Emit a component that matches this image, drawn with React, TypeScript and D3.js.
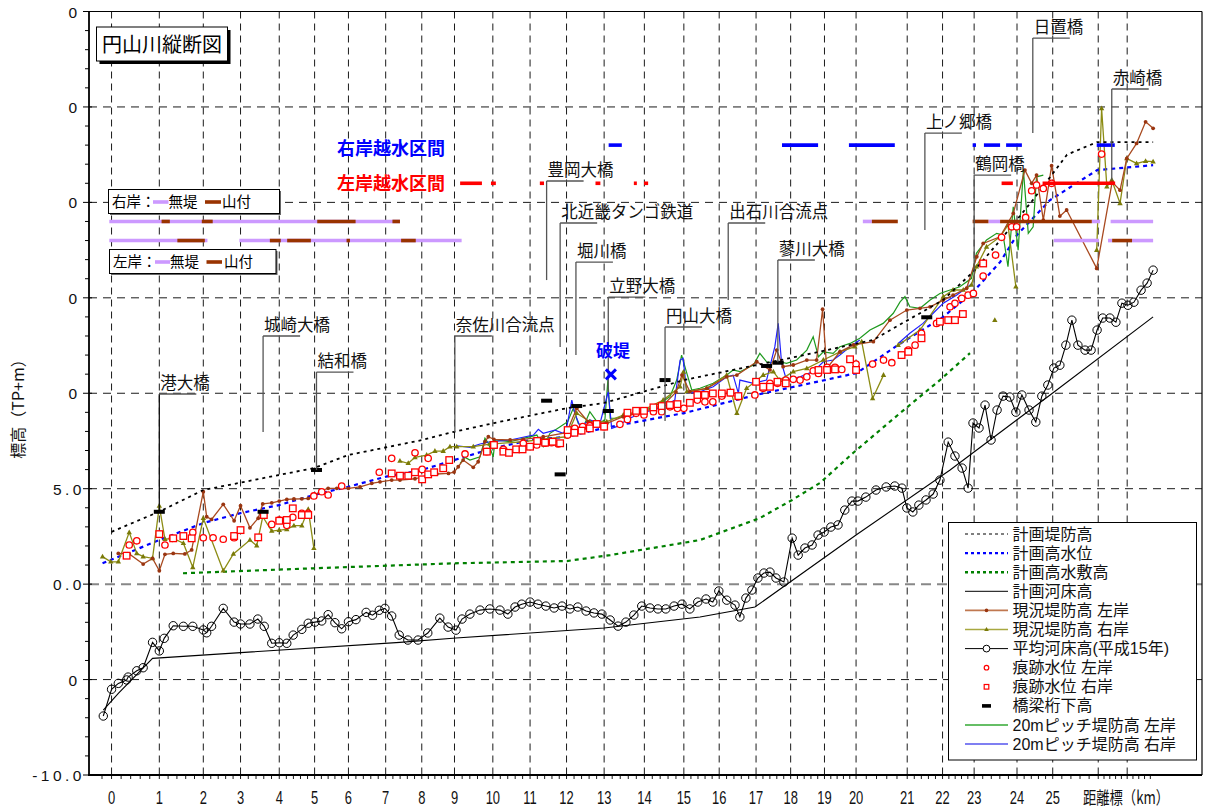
import React from "react";
import * as d3 from "d3";

type P = [number, number];
type Seg = [number, number];

// ---------- axis data ----------
const kmPostLabels = ["0","1","2","3","4","5","6","7","8","9","10","11","12","13","14","15","16","17","18","19","20","21","22","23","24","25","",""];
// true distance (km) of each distance-marker post along the channel
const kmPostDist = [0.0,1.27,2.44,3.43,4.46,5.40,6.30,7.29,8.25,9.12,10.14,11.13,12.10,13.10,14.17,15.22,16.16,17.14,18.06,18.96,19.80,21.16,22.10,22.94,24.08,25.03,26.24,27.01];
const yTickValues = [-10,-5,0,5,10,15,20,25,30];
const yTickLabels = ["-10.0","0","0.0","5.0","0","0","0","0","0"];

// ---------- series (x = distance km, y = elevation TP m) ----------
const planLevee: P[] = [[0,2.74],[1.26,3.79],[2.44,4.93],[5.38,6.08],[6.29,6.76],[8.26,7.55],[9.11,7.98],[10.17,8.44],[12.11,9.22],[13.10,9.49],[15.22,10.69],[18.04,11.84],[20.25,12.79],[22.11,14.88],[22.91,16.35],[23.63,18.0],[24.50,20.12],[25.41,22.5],[26.21,23.16],[27.70,23.16]];
const planHWL: P[] = [[-0.24,1.09],[1.27,2.31],[2.44,3.20],[3.43,3.72],[4.45,4.14],[5.38,4.67],[6.29,5.10],[7.30,5.63],[8.25,5.98],[9.11,6.50],[10.17,7.13],[11.15,7.55],[12.11,7.72],[13.10,8.18],[15.22,8.96],[17.14,9.91],[18.97,10.69],[19.82,11.06],[20.92,12.53],[22.11,13.99],[22.91,15.30],[23.63,16.87],[24.08,18.29],[24.96,20.12],[26.21,21.69],[27.70,21.95]];
const planHighBed: P[] = [[1.90,0.57],[5.38,0.83],[9.11,1.09],[12.11,1.21],[13.26,1.52],[15.65,2.31],[17.24,3.46],[18.10,4.41],[18.84,5.30],[19.72,6.87],[20.97,8.96],[22.03,10.69],[22.83,12.10]];
const planBed: P[] = [[-0.22,-6.60],[0.18,-5.72],[1.09,-3.89],[7.67,-3.05],[9.16,-2.82],[13.10,-2.30],[15.65,-1.72],[17.11,-1.20],[19.80,2.57],[22.30,5.98],[24.96,9.91],[27.70,14.00]];

const leftLevee: P[][] = [[[0.18,1.61],[0.47,1.58],[0.84,1.05],[1.09,1.35],[1.27,0.70],[1.42,1.56],[1.64,1.61],[1.95,1.58],[2.13,1.79],[2.44,4.84],[2.53,3.53],[2.66,3.39],[2.97,4.18],[3.26,3.32],[3.43,4.11],[3.68,2.95],[3.90,3.45],[4.02,4.20],[4.26,4.26],[4.46,4.35],[4.66,4.44],[4.85,4.46],[5.06,4.47],[5.23,4.49],[5.38,4.58],[5.54,4.88],[5.76,5.02],[5.99,5.02],[6.30,5.02],[6.61,5.10],[6.92,5.28],[7.14,5.36],[7.45,5.45],[7.67,5.45],[8.07,5.52],[8.38,5.68],[8.65,5.77],[8.96,5.80],[9.11,5.87],[9.22,6.15],[9.35,6.50],[9.62,6.12],[9.75,6.41],[9.93,7.46],[10.02,7.72],[10.17,7.58],[10.60,7.55],[10.95,7.58],[11.48,7.72],[12.10,7.93],[12.37,9.21],[12.67,8.51],[13.17,8.42],[13.61,8.77],[14.14,9.03],[14.67,9.38],[15.01,10.06],[15.17,10.95],[15.38,10.08],[15.83,10.26],[16.36,10.86],[16.63,10.95],[17.16,11.65],[17.51,11.22],[17.69,12.26],[17.86,11.39],[18.13,11.48],[18.49,11.74],[18.75,11.74],[18.91,14.40],[19.02,11.30],[19.37,12.17],[19.73,12.53],[20.26,12.70],[20.70,13.83],[21.15,14.36],[21.50,14.45],[21.77,14.53],[22.12,14.88],[22.38,15.14],[22.74,15.50],[23.01,17.15],[23.18,17.85],[23.63,18.20],[23.98,19.42],[24.29,21.69],[24.47,21.00],[24.60,21.43],[24.78,19.07],[25.00,21.92],[25.22,19.28],[25.40,19.60],[26.20,16.54],[26.61,21.06],[26.82,20.64],[27.00,22.30],[27.26,23.09],[27.50,24.22],[27.70,23.88]]];

const rightLevee: P[][] = [
  [[-0.24,1.44],[-0.02,1.17],[0.18,1.17],[0.47,2.71],[0.67,1.61],[0.84,1.44],[1.09,1.35],[1.27,4.09],[1.42,2.35],[1.64,2.40],[1.91,2.14],[2.16,0.88],[2.44,3.45],[2.97,0.70],[3.24,1.58],[3.68,2.31],[3.86,2.01],[4.02,3.53],[4.26,2.78],[4.46,2.83],[4.66,2.87],[4.85,3.06],[5.06,3.06],[5.23,3.92],[5.38,1.88]],
  [[7.67,6.45],[7.89,6.33],[8.07,6.64],[8.38,6.76],[8.60,6.97],[8.82,6.97],[9.00,7.20],[9.18,7.20],[9.62,7.20],[10.06,7.34],[10.95,7.46],[11.48,7.60],[12.10,7.72],[12.37,8.95],[12.72,8.51],[13.17,8.51],[13.61,8.86],[14.14,9.12],[14.67,9.64],[15.12,10.34],[15.21,11.11],[15.30,10.08],[15.83,10.26],[16.36,10.95],[16.63,8.95],[16.89,10.26],[17.33,10.95],[17.60,11.13],[17.77,10.69],[18.13,11.13],[18.49,11.30],[18.93,11.74],[19.37,12.17],[19.77,12.44],[19.95,12.70],[20.24,9.73],[20.53,10.95]],
  [[20.92,12.52],[21.50,13.31],[22.12,15.06],[22.38,15.41],[22.65,15.41],[22.87,15.67],[23.00,16.63],[23.27,17.67],[23.63,18.20],[23.84,18.81],[24.05,15.58]],
  [[23.49,13.83]],
  [[26.20,17.50],[26.33,24.92],[26.47,20.82],[26.60,21.17],[26.82,19.95],[27.00,22.30],[27.26,22.04],[27.50,22.16],[27.70,22.13]]
];

const meanBed2003: P[] = [[-0.22,-6.91],[0.0,-5.51],[0.18,-5.20],[0.40,-5.02],[0.44,-4.87],[0.67,-4.54],[0.84,-4.38],[1.09,-3.05],[1.27,-3.50],[1.40,-2.84],[1.64,-2.18],[1.91,-2.21],[2.16,-2.21],[2.44,-2.40],[2.53,-2.55],[2.66,-2.21],[2.97,-1.27],[3.26,-1.99],[3.43,-2.09],[3.68,-2.09],[3.89,-1.83],[4.06,-2.21],[4.26,-3.10],[4.46,-3.07],[4.66,-3.10],[4.83,-2.67],[5.06,-2.37],[5.23,-2.05],[5.41,-1.99],[5.59,-1.93],[5.76,-1.60],[5.94,-2.02],[6.12,-2.34],[6.30,-1.97],[6.50,-1.86],[6.77,-1.48],[6.94,-1.63],[7.12,-1.37],[7.27,-1.27],[7.45,-1.67],[7.65,-2.67],[7.88,-2.93],[8.15,-2.93],[8.41,-2.56],[8.73,-1.78],[8.95,-2.25],[9.16,-2.41],[9.32,-1.83],[9.53,-1.57],[9.80,-1.36],[10.06,-1.30],[10.33,-1.36],[10.54,-1.57],[10.73,-1.20],[10.91,-1.05],[11.13,-0.94],[11.34,-1.05],[11.55,-1.15],[11.77,-1.25],[11.98,-1.15],[12.19,-1.30],[12.40,-1.20],[12.62,-1.41],[12.83,-1.51],[13.04,-1.57],[13.26,-1.88],[13.47,-2.20],[13.68,-1.99],[13.89,-1.62],[14.10,-1.15],[14.32,-1.25],[14.53,-1.30],[14.74,-1.30],[14.96,-1.15],[15.17,-1.05],[15.38,-1.30],[15.59,-0.94],[15.81,-0.78],[15.99,-0.94],[16.15,-0.36],[16.36,-0.84],[16.58,-1.10],[16.71,-1.72],[16.87,-0.73],[17.03,-0.31],[17.19,0.32],[17.35,0.58],[17.51,0.63],[17.67,0.32],[17.88,0.11],[18.10,2.41],[18.26,1.52],[18.44,1.89],[18.63,2.05],[18.79,2.57],[18.95,2.73],[19.13,2.99],[19.32,3.10],[19.50,3.88],[19.69,4.35],[19.85,4.35],[20.06,4.56],[20.33,4.93],[20.60,5.09],[20.83,5.14],[21.02,5.03],[21.15,3.99],[21.31,3.78],[21.47,4.14],[21.66,4.41],[21.85,4.72],[22.03,5.45],[22.25,7.44],[22.43,6.71],[22.62,6.08],[22.78,5.03],[22.91,8.44],[23.07,8.18],[23.23,9.38],[23.39,7.55],[23.55,9.12],[23.71,9.85],[23.89,9.80],[24.05,9.01],[24.21,9.91],[24.40,9.12],[24.58,8.49],[24.74,9.85],[24.90,10.43],[25.06,11.32],[25.22,11.47],[25.38,12.52],[25.54,13.83],[25.70,12.52],[25.89,12.26],[26.05,12.26],[26.21,13.31],[26.36,13.94],[26.55,13.94],[26.71,13.72],[26.87,14.72],[27.03,14.61],[27.19,14.77],[27.38,15.40],[27.54,15.77],[27.70,16.45]];

const floodMarkLeft: P[] = [[0.47,2.05],[0.67,2.27],[1.42,2.05],[1.62,2.40],[2.16,2.71],[2.44,2.43],[2.70,2.43],[2.97,2.35],[3.26,2.43],[4.26,3.13],[4.46,3.36],[4.66,3.08],[4.82,3.50],[5.06,3.71],[5.23,3.71],[5.38,4.62],[5.59,4.84],[5.76,4.67],[6.12,5.14],[7.12,5.86],[7.45,6.59],[8.07,6.88],[8.26,6.01],[8.42,6.59],[9.40,6.82],[9.98,6.94],[10.42,7.06],[10.95,7.38],[11.31,7.29],[11.53,7.38],[11.70,7.41],[11.88,7.34],[12.13,7.81],[12.32,8.16],[12.53,8.25],[12.72,8.30],[13.10,8.25],[13.52,8.37],[13.72,8.63],[13.95,8.95],[14.16,8.86],[14.41,9.03],[14.63,9.03],[14.85,9.29],[15.05,9.21],[15.22,9.21],[15.58,9.64],[15.78,9.55],[15.99,9.55],[16.23,9.85],[16.45,10.03],[16.67,9.82],[17.11,9.91],[17.33,10.26],[17.51,10.52],[17.71,10.52],[17.93,10.69],[18.13,10.73],[18.31,10.69],[18.49,10.86],[18.66,11.18],[18.80,11.04],[19.03,11.36],[19.24,11.36],[19.42,11.25],[19.80,11.53],[20.24,11.53],[20.53,11.74],[20.75,11.60],[21.19,12.26],[21.37,12.52],[21.54,13.14],[21.94,13.66],[22.30,14.53],[22.43,14.71],[22.61,14.97],[22.78,15.14],[22.92,15.23],[23.18,16.14],[23.51,17.24],[23.67,18.17],[23.94,18.72],[24.07,18.72],[24.31,19.21],[24.47,20.61],[24.60,20.91],[24.78,20.73],[25.00,21.00],[26.33,22.53]];
const floodMarkRight: P[] = [[0.40,1.49],[1.27,2.62],[1.64,2.40],[1.91,2.52],[2.13,2.40],[3.26,2.52],[3.43,2.83],[3.90,2.45],[4.05,3.62],[4.46,3.32],[4.66,3.36],[4.82,3.97],[5.06,3.62],[5.23,3.62],[7.45,5.80],[7.67,5.68],[7.89,5.68],[8.07,5.86],[8.26,5.49],[8.42,5.75],[8.58,5.86],[8.82,6.07],[8.98,6.50],[9.98,6.94],[10.17,7.29],[10.42,6.94],[10.57,6.88],[10.76,7.06],[10.93,7.06],[11.13,7.20],[11.32,7.50],[11.53,7.41],[11.73,7.46],[11.93,7.38],[12.13,8.07],[12.31,7.93],[12.50,8.04],[12.72,8.16],[12.90,8.39],[13.10,8.25],[13.72,8.98],[13.95,9.08],[14.16,9.08],[14.41,9.26],[14.63,9.33],[14.85,9.38],[15.05,9.43],[15.38,9.50],[15.58,9.91],[15.78,9.91],[15.99,9.99],[16.23,9.99],[16.46,10.03],[16.67,9.85],[17.14,10.60],[17.33,10.34],[17.51,10.34],[17.71,10.60],[17.93,10.52],[18.80,11.22],[19.03,11.22],[19.24,11.25],[19.64,11.78],[19.80,11.22],[21.01,12.00],[21.19,12.17],[21.54,12.88],[22.03,13.75],[22.25,13.83],[22.43,13.83],[22.64,14.15],[23.18,16.80]];

const bridgeGirder: P[] = [[1.27,3.79],[4.03,3.79],[5.45,5.98],[11.57,9.61],[11.93,5.75],[12.37,9.33],[13.21,9.07],[14.72,10.69],[17.42,11.43],[17.73,11.60],[21.68,13.98]];

const pitchLeft: P[][] = [[[9.27,6.33],[9.40,6.64],[9.53,6.50],[9.80,6.67],[9.93,7.64],[10.02,7.38],[10.15,6.67],[10.20,7.55],[10.60,7.46],[10.95,7.64],[11.31,7.81],[11.48,7.20],[11.66,7.90],[11.93,8.25],[12.13,8.51],[12.28,9.21],[12.41,8.42],[12.55,8.25],[12.72,9.03],[12.94,8.42],[13.12,8.60],[13.20,10.69],[13.26,8.70],[13.43,8.69],[13.70,8.86],[14.05,9.03],[14.32,9.21],[14.58,9.47],[14.85,9.82],[15.03,10.69],[15.16,12.00],[15.30,11.04],[15.43,10.17],[15.65,10.26],[16.00,10.52],[16.36,10.95],[16.53,11.22],[16.71,11.13],[17.07,11.48],[17.24,12.09],[17.42,11.65],[17.64,11.57],[17.77,11.65],[17.95,11.57],[18.22,11.74],[18.49,12.26],[18.66,12.96],[18.80,11.91],[18.93,12.17],[19.19,12.09],[19.37,12.44],[19.64,12.61],[19.90,12.88],[20.17,13.31],[20.52,13.66],[20.79,14.19],[20.97,14.79],[21.10,15.06],[21.23,14.53],[21.50,14.45],[21.77,14.88],[22.03,15.23],[22.30,15.41],[22.56,15.58],[22.87,16.02],[23.00,17.33],[23.27,18.03],[23.54,18.38],[23.71,18.29],[23.84,16.63],[23.98,19.77],[24.11,17.50],[24.25,21.69],[24.38,18.38],[24.51,18.72],[24.60,21.34],[24.78,21.43]]];
const pitchRight: P[][] = [
  [[9.18,7.25],[9.53,7.17],[9.80,7.34],[10.06,7.46],[10.60,7.55],[11.22,7.81],[11.35,8.11],[11.48,7.90],[11.79,8.07],[12.01,7.90],[12.10,8.16],[12.24,9.64],[12.32,8.95],[12.46,8.25],[12.72,8.60],[12.99,8.42],[13.21,10.08],[13.30,8.16],[13.43,8.25],[13.70,8.60],[14.05,8.95],[14.41,9.12],[14.67,9.29],[14.98,9.64],[15.12,11.74],[15.20,11.83],[15.30,9.99],[15.65,10.08],[16.00,10.34],[16.36,10.86],[16.53,10.95],[16.67,9.99],[16.71,10.69],[17.07,10.52],[17.42,10.69],[17.64,12.44],[17.73,13.66],[17.82,11.57],[17.95,10.69],[18.31,10.86],[18.66,11.13],[18.93,11.65],[19.19,11.74],[19.37,12.00],[19.64,12.44],[19.90,12.79]],
  [[20.92,12.61],[21.23,13.14],[21.58,13.66],[21.85,14.19],[22.12,14.72],[22.47,15.14],[22.87,15.72]]
];

// overflow sections and bank type rows (start, end distance)
const rightOverflow: Seg[] = [[13.22,13.57],[17.83,18.79],[19.61,20.83],[22.90,22.99],[23.20,23.63],[23.79,24.21],[26.20,26.68]];
const leftOverflow: Seg[] = [[9.27,9.85],[10.09,10.22],[11.39,11.50],[12.87,13.00],[13.89,13.97],[14.16,14.27],[23.67,23.97],[24.76,26.69]];
const rightNoLevee: Seg[] = [[-0.06,7.67],[19.98,20.22],[23.32,23.63],[26.07,26.29],[26.57,27.70]];
const rightMountain: Seg[] = [[1.33,1.55],[2.40,2.69],[5.47,6.49],[7.47,7.67],[20.22,20.91],[22.90,23.32],[23.63,26.07]];
const leftNoLevee: Seg[] = [[-0.06,2.55],[3.40,9.31],[25.06,26.26],[26.50,26.61],[27.14,27.70]];
const leftMountain: Seg[] = [[1.75,2.48],[4.21,4.50],[4.67,5.30],[6.25,6.34],[7.70,8.09],[26.61,27.14]];

// bridge / confluence annotations: distance, label elevation, pointer-end elevation
const bridgeNames = ["港大橋","城崎大橋","結和橋","奈佐川合流点","豊岡大橋","北近畿タンゴ鉄道","堀川橋","立野大橋","円山大橋","出石川合流点","蓼川大橋","上ノ郷橋","鶴岡橋","日置橋","赤崎橋"];
const bridgeDist = [1.27,4.03,5.45,9.13,11.57,11.93,12.35,13.21,14.72,16.40,17.72,21.63,22.94,24.50,26.60];
const bridgeLabelElev = [9.96,13.00,11.11,13.00,21.12,18.92,16.87,15.04,13.47,18.92,16.98,23.63,21.43,28.61,25.94];
const bridgeBaseElev = [3.88,7.97,5.98,7.97,15.93,12.42,12.00,10.06,8.54,14.88,11.63,18.55,15.41,23.63,21.17];
const breachPoint: P = [13.28, 10.99];

const legendLabels = ["計画堤防高","計画高水位","計画高水敷高","計画河床高","現況堤防高 左岸","現況堤防高 右岸","平均河床高(平成15年)","痕跡水位 左岸","痕跡水位 右岸","橋梁桁下高","20mピッチ堤防高 左岸","20mピッチ堤防高 右岸"];

const JP = "'Noto Sans CJK JP', 'Noto Sans', sans-serif";
const JP_TIGHT = "'Liberation Sans', 'Noto Sans CJK JP', sans-serif";
const NUM = "'Liberation Sans', Arial, sans-serif";
const C = {
  brown: "#A8491F", brownMk: "#9A3510",
  olive: "#8C8C14", oliveMk: "#7A7A08",
  green20: "#1E9A1E", blue20: "#1F1FFF",
  purple: "#CC99FF", mount: "#993300",
};

export default function App() {
  const x = d3.scaleLinear().domain([-0.6, 29.0]).range([89, 1202]);
  const y = d3.scaleLinear().domain([-10, 30]).range([775, 11.5]);
  const chainToDist = d3.scaleLinear().domain(kmPostDist.map((_, i) => i)).range(kmPostDist);
  const line = d3.line<P>().x(d => x(d[0])).y(d => y(d[1]));
  const x0 = x.range()[0], x1 = x.range()[1];
  const yTop = y.range()[1], yBot = y.range()[0];

  const minorY = d3.range(-10, 31, 1);
  const minorX = d3.range(-0.2, 27.81, 0.2).map(c => chainToDist(c));

  const tri = (cx: number, cy: number, s: number) => `M${cx},${cy - s}L${cx + s * 0.9},${cy + s * 0.6}L${cx - s * 0.9},${cy + s * 0.6}Z`;

  const legendY = (i: number) => 534 + i * 19.1;
  const lx0 = 965, lx1 = 1008, lxm = 986.5;

  const barRow = (segs: Seg[], level: number, color: string, key: string) =>
    segs.map((s, i) => (
      <line key={key + i} x1={x(s[0])} x2={x(s[1])} y1={y(level)} y2={y(level)} stroke={color} strokeWidth={3.6} />
    ));

  return (
    <svg width={1205} height={808} style={{ position: "absolute", left: 0, top: 0, background: "#fff" }}>
      <rect x={0} y={0} width={1205} height={808} fill="#fff" />
      {/* grid */}
      {kmPostDist.map((d, i) => (
        <line key={"gx" + i} x1={x(d)} x2={x(d)} y1={yTop} y2={yBot} stroke="#000" strokeWidth={0.9} strokeDasharray="7,5" />
      ))}
      {yTickValues.filter(v => v > -10 && v < 30).map(v => (
        <line key={"gy" + v} x1={x0} x2={x1} y1={y(v)} y2={y(v)}
          stroke={v === 0 ? "#888" : "#000"} strokeWidth={v === 0 ? 2 : 0.9} strokeDasharray={v === 0 ? "10,6" : "8,6"} />
      ))}

      {/* plan lines */}
      <path d={line(planHighBed) || ""} fill="none" stroke="#008000" strokeWidth={2.2} strokeDasharray="4,4" />
      <path d={line(planBed) || ""} fill="none" stroke="#000" strokeWidth={1.1} />
      <path d={line(planHWL) || ""} fill="none" stroke="#0000FF" strokeWidth={2.2} strokeDasharray="4,4" />

      {/* mean bed 2003 */}
      <path d={line(meanBed2003) || ""} fill="none" stroke="#000" strokeWidth={1.1} />
      {meanBed2003.map((p, i) => (
        <circle key={"mb" + i} cx={x(p[0])} cy={y(p[1])} r={4.2} fill="none" stroke="#000" strokeWidth={1} />
      ))}

      {/* 20m pitch */}
      {pitchLeft.map((s, i) => <path key={"pl" + i} d={line(s) || ""} fill="none" stroke={C.green20} strokeWidth={1.2} />)}
      {pitchRight.map((s, i) => <path key={"pr" + i} d={line(s) || ""} fill="none" stroke={C.blue20} strokeWidth={1.2} />)}

      {/* current levee */}
      {rightLevee.map((s, i) => <path key={"rl" + i} d={line(s) || ""} fill="none" stroke={C.olive} strokeWidth={1.3} />)}
      {rightLevee.flat().map((p, i) => <path key={"rlm" + i} d={tri(x(p[0]), y(p[1]), 3)} fill={C.oliveMk} />)}
      {leftLevee.map((s, i) => <path key={"ll" + i} d={line(s) || ""} fill="none" stroke={C.brown} strokeWidth={1.3} />)}
      {leftLevee.flat().map((p, i) => <circle key={"llm" + i} cx={x(p[0])} cy={y(p[1])} r={1.9} fill={C.brownMk} />)}

      {/* plan levee */}
      <path d={line(planLevee) || ""} fill="none" stroke="#000" strokeWidth={1.8} strokeDasharray="3,4" />

      {/* flood marks */}
      {floodMarkLeft.map((p, i) => <circle key={"fl" + i} cx={x(p[0])} cy={y(p[1])} r={3.2} fill="#fff" stroke="#FF0000" strokeWidth={1.3} />)}
      {floodMarkRight.map((p, i) => <rect key={"fr" + i} x={x(p[0]) - 3.3} y={y(p[1]) - 3.3} width={6.6} height={6.6} fill="#fff" stroke="#FF0000" strokeWidth={1.3} />)}

      {/* bridge girder */}
      {bridgeGirder.map((p, i) => <rect key={"bg" + i} x={x(p[0]) - 5.5} y={y(p[1]) - 2} width={11} height={4} fill="#000" />)}

      {/* overflow sections */}
      {barRow(rightOverflow, 23, "#0000FF", "ro")}
      {barRow(leftOverflow, 21, "#FF0000", "lo")}
      <text x={337} y={155} fontFamily={JP} fontSize={18} fontWeight="bold" fill="#0000FF">右岸越水区間</text>
      <text x={337} y={190} fontFamily={JP} fontSize={18} fontWeight="bold" fill="#FF0000">左岸越水区間</text>

      {/* bank type rows */}
      {barRow(rightNoLevee, 19, C.purple, "rn")}
      {barRow(rightMountain, 19, C.mount, "rm")}
      {barRow(leftNoLevee, 18, C.purple, "ln")}
      {barRow(leftMountain, 18, C.mount, "lm")}

      {/* bank legend boxes */}
      <rect x={110} y={191} width={171} height={24} fill="#666" />
      <rect x={108.5} y={189.5} width={171} height={24} fill="#fff" stroke="#000" strokeWidth={1} />
      <text x={112} y={207} fontFamily={JP} fontSize={14.5}>右岸：</text>
      <line x1={153} x2={168.5} y1={202} y2={202} stroke={C.purple} strokeWidth={3.6} />
      <text x={168.5} y={207} fontFamily={JP} fontSize={14.5}>無堤</text>
      <line x1={205} x2={221} y1={202} y2={202} stroke={C.mount} strokeWidth={3.6} />
      <text x={222} y={207} fontFamily={JP} fontSize={14.5}>山付</text>

      <rect x={111} y={251} width={166.5} height={24} fill="#666" />
      <rect x={109.5} y={249.5} width={166.5} height={24} fill="#fff" stroke="#000" strokeWidth={1} />
      <text x={113} y={267} fontFamily={JP} fontSize={14.5}>左岸：</text>
      <line x1={155} x2={170} y1={262} y2={262} stroke={C.purple} strokeWidth={3.6} />
      <text x={170} y={267} fontFamily={JP} fontSize={14.5}>無堤</text>
      <line x1={206.5} x2={222} y1={262} y2={262} stroke={C.mount} strokeWidth={3.6} />
      <text x={224} y={267} fontFamily={JP} fontSize={14.5}>山付</text>

      {/* bridge annotations */}
      {bridgeNames.map((n, i) => {
        const bx = x(bridgeDist[i]);
        const ly = y(bridgeLabelElev[i]);
        return (
          <g key={"bn" + i}>
            <line x1={bx} x2={bx} y1={ly} y2={y(bridgeBaseElev[i])} stroke={i === 0 ? "#111" : "#555"} strokeWidth={1.3} />
            <line x1={bx} x2={bx + 37} y1={ly} y2={ly} stroke="#555" strokeWidth={1.3} />
            <text x={bx + 1} y={ly - 5} fontFamily={JP} fontSize={16.5} fill="#111">{n}</text>
          </g>
        );
      })}

      {/* breach */}
      <text x={596} y={357} fontFamily={JP} fontSize={17} fontWeight="bold" fill="#0000FF">破堤</text>
      <g stroke="#0000FF" strokeWidth={3}>
        <line x1={x(breachPoint[0]) - 5} x2={x(breachPoint[0]) + 5} y1={y(breachPoint[1]) - 5} y2={y(breachPoint[1]) + 5} />
        <line x1={x(breachPoint[0]) - 5} x2={x(breachPoint[0]) + 5} y1={y(breachPoint[1]) + 5} y2={y(breachPoint[1]) - 5} />
      </g>

      {/* title */}
      <rect x={99.5} y={30} width={131} height={34} fill="#000" />
      <rect x={96.5} y={27} width={131} height={34} fill="#fff" stroke="#000" strokeWidth={1} />
      <text x={162} y={51.5} textAnchor="middle" fontFamily={JP} fontSize={20}>円山川縦断図</text>

      {/* legend */}
      <rect x={948.5} y={522.5} width={248} height={237.5} fill="#fff" stroke="#000" strokeWidth={1} />
      {legendLabels.map((lab, i) => {
        const ly = legendY(i);
        let sample: React.ReactNode = null;
        if (i === 0) sample = <line x1={lx0} x2={lx1} y1={ly} y2={ly} stroke="#000" strokeWidth={1.2} strokeDasharray="3,3" />;
        if (i === 1) sample = <line x1={lx0} x2={lx1} y1={ly} y2={ly} stroke="#0000FF" strokeWidth={2.4} strokeDasharray="3,3" />;
        if (i === 2) sample = <line x1={lx0} x2={lx1} y1={ly} y2={ly} stroke="#008000" strokeWidth={2.4} strokeDasharray="3,3" />;
        if (i === 3) sample = <line x1={lx0} x2={lx1} y1={ly} y2={ly} stroke="#000" strokeWidth={1} />;
        if (i === 4) sample = <g><line x1={lx0} x2={lx1} y1={ly} y2={ly} stroke="#C07850" strokeWidth={1.6} /><circle cx={lxm} cy={ly} r={1.8} fill={C.brownMk} /></g>;
        if (i === 5) sample = <g><line x1={lx0} x2={lx1} y1={ly} y2={ly} stroke="#A8A840" strokeWidth={1.6} /><path d={tri(lxm, ly, 2.6)} fill={C.oliveMk} /></g>;
        if (i === 6) sample = <g><line x1={lx0} x2={lx1} y1={ly} y2={ly} stroke="#000" strokeWidth={1} /><circle cx={lxm} cy={ly} r={3.4} fill="#fff" stroke="#000" strokeWidth={1} /></g>;
        if (i === 7) sample = <circle cx={lxm} cy={ly} r={2.3} fill="#fff" stroke="#FF0000" strokeWidth={1.2} />;
        if (i === 8) sample = <rect x={lxm - 2.3} y={ly - 2.3} width={4.6} height={4.6} fill="#fff" stroke="#FF0000" strokeWidth={1.2} />;
        if (i === 9) sample = <rect x={lxm - 4.5} y={ly - 1.8} width={9} height={3.6} fill="#000" />;
        if (i === 10) sample = <line x1={lx0} x2={lx1} y1={ly} y2={ly} stroke="#33A833" strokeWidth={1.5} />;
        if (i === 11) sample = <line x1={lx0} x2={lx1} y1={ly} y2={ly} stroke="#5555EE" strokeWidth={1.5} />;
        return (
          <g key={"lg" + i}>
            {sample}
            <text x={1012.5} y={ly + 5.5} fontFamily={JP_TIGHT} fontSize={16} fill="#111">{lab}</text>
          </g>
        );
      })}

      {/* axes frame */}
      <line x1={x0} x2={x1} y1={yTop} y2={yTop} stroke="#000" strokeWidth={1.2} />
      <line x1={x1} x2={x1} y1={yTop} y2={yBot} stroke="#000" strokeWidth={1.2} />
      <line x1={x0} x2={x0} y1={yTop} y2={yBot + 1} stroke="#000" strokeWidth={1.8} />
      <line x1={x0 - 1} x2={x1} y1={yBot} y2={yBot} stroke="#000" strokeWidth={1.8} />

      {/* y ticks */}
      {minorY.map(v => (
        <line key={"my" + v} x1={x0 - (v % 5 === 0 ? 6 : 4)} x2={x0 + (v % 5 === 0 ? 3 : 0)} y1={y(v)} y2={y(v)} stroke="#000" strokeWidth={1} />
      ))}
      {yTickValues.map((v, i) => (
        <text key={"yl" + i} x={yTickLabels[i].length === 1 ? 77 : 85} y={y(v) + 6} textAnchor="end"
          fontFamily={NUM} fontSize={15.5} letterSpacing={yTickLabels[i].length === 1 ? 0 : 3.5} fill="#111">{yTickLabels[i]}</text>
      ))}
      <text transform="translate(24,405) rotate(-90)" textAnchor="middle" fontFamily={JP} fontSize={16} fill="#111">標高（TP+m）</text>

      {/* x ticks */}
      {minorX.map((d, i) => (
        <line key={"mx" + i} x1={x(d)} x2={x(d)} y1={yBot} y2={yBot + 4} stroke="#000" strokeWidth={0.9} />
      ))}
      {kmPostDist.map((d, i) => kmPostLabels[i] ? (
        <g key={"xl" + i} transform={`translate(${x(d)},804) scale(0.74,1)`}>
          <text textAnchor="middle" fontFamily={NUM} fontSize={17.5} fill="#111">{kmPostLabels[i]}</text>
        </g>
      ) : null)}
      <g transform="translate(1083,804) scale(0.76,1)">
        <text fontFamily={JP} fontSize={17.5} fill="#111">距離標（km）</text>
      </g>
    </svg>
  );
}
